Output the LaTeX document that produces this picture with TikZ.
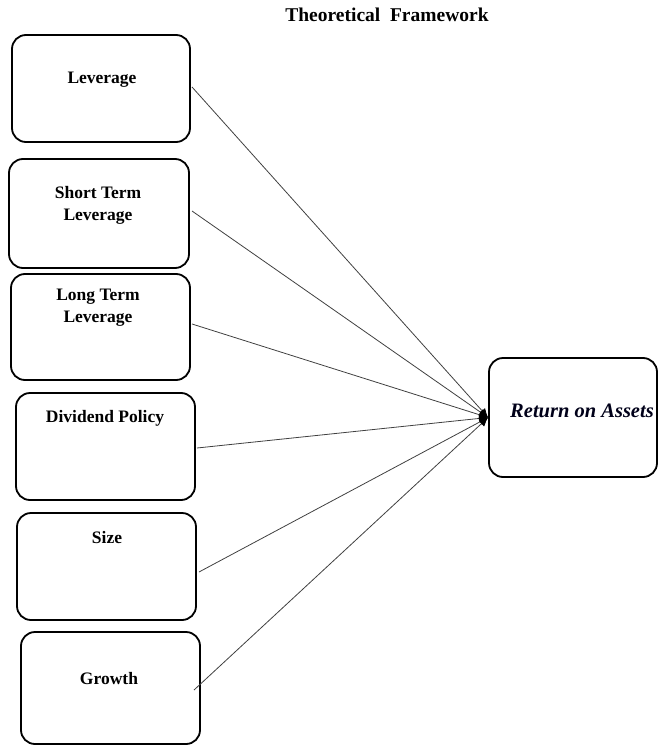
\documentclass[tikz,border=0pt]{standalone}
\usepackage{fontspec}
\setmainfont{Liberation Serif}
\usetikzlibrary{arrows.meta}
\begin{document}
\begin{tikzpicture}[x=1pt,y=-1pt,
  varbox/.style={draw=black,line width=1.8pt,rounded corners=14pt,fill=white,inner sep=0pt},
  lbl/.style={font=\fontsize{17.5}{22}\selectfont\bfseries,align=center,inner sep=0pt},
  link/.style={draw=black!75,line width=0.8pt,-{Latex[length=9pt,width=8pt,fill=black,color=black]}}]
\useasboundingbox (0,0) rectangle (658,746);
% title
\node[font=\fontsize{19.5}{23}\selectfont\bfseries,inner sep=0pt] (title) at (387,15) {Theoretical\ \ Framework};
% boxes
\node[varbox,minimum width=178pt,minimum height=107pt] (lev) at (101,88.5) {};
\node[varbox,minimum width=180pt,minimum height=109pt] (st) at (99,213.5) {};
\node[varbox,minimum width=179pt,minimum height=106pt] (lt) at (100.5,327) {};
\node[varbox,minimum width=179pt,minimum height=107pt] (div) at (105.5,446.5) {};
\node[varbox,minimum width=179pt,minimum height=107pt] (size) at (106.5,566.5) {};
\node[varbox,minimum width=179pt,minimum height=112pt] (gro) at (110.5,688) {};
\node[varbox,minimum width=168pt,minimum height=119pt] (roa) at (573,417.5) {};
% texts
\node[lbl] (levt) at (102,80) {Leverage};
\node[lbl] (stt) at (98,205) {Short Term\\Leverage};
\node[lbl] (ltt) at (98,308) {Long Term\\Leverage};
\node[lbl] (divt) at (105,418) {Dividend Policy};
\node[lbl] (sizet) at (107,538) {Size};
\node[lbl] (grot) at (109,679) {Growth};
\node[font=\fontsize{20.5}{24}\selectfont\bfseries\itshape,inner sep=0pt,text=black!90!blue] (roat) at (582,411) {Return on Assets};
% connector starts
\coordinate (s1) at (192,87);
\coordinate (s2) at (192,211);
\coordinate (s3) at (192,324);
\coordinate (s4) at (197,448);
\coordinate (s5) at (199,572);
\coordinate (s6) at (194,690);
\foreach \s in {s1,s2,s3,s4,s5,s6}
  \draw[link] (\s) -- (roa.west);
\end{tikzpicture}
\end{document}
